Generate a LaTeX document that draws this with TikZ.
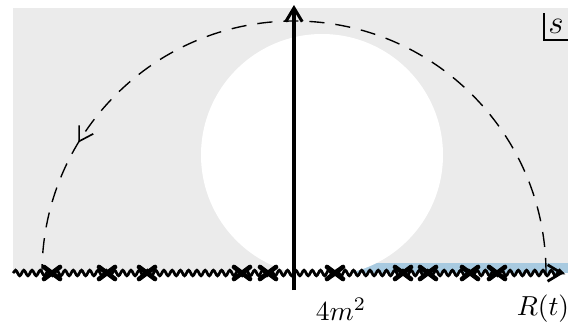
\documentclass[tikz,border=0pt]{standalone}
\usetikzlibrary{decorations.pathmorphing, decorations.markings, arrows.meta}

\definecolor{bggray}{RGB}{235,235,235}
\definecolor{cutblue}{RGB}{168,202,224}

\tikzset{
  pole/.style={line width=1.7pt, line cap=round},
  cut/.style={line width=1pt, decorate,
              decoration={snake, segment length=3pt, amplitude=1pt}},
  contour/.style={line width=0.5pt, dash pattern=on 5.5pt off 4pt}
}

\begin{document}
\begin{tikzpicture}[x=0.364pt, y=0.364pt,
                    >={Straight Barb[length=5pt, width=6pt]}]
  \useasboundingbox (-294, -52) rectangle (274, 273);
  \clip (-294, -52) rectangle (274, 273);

  % Region shading: grey half plane, blue strip above the cut, white disk
  \fill[bggray] (-281, 0) rectangle (280, 265);
  \fill[cutblue] (41, 0) rectangle (280, 10);
  \fill[white] (28, 118) circle (121);

  % Key points
  \coordinate (o) at (0, 0);
  \coordinate (bot) at (0, -17);
  \coordinate (top) at (0, 268);
  \coordinate (l) at (-281, 0);
  \coordinate (r) at (270, 0);

  % Large contour (radius R(t)), counterclockwise
  \draw[contour, postaction={decorate},
        decoration={markings, mark=at position 0.827 with
          {\arrow[line width=0.6pt, solid]{Straight Barb[length=5pt, width=6pt]}}}]
    (252, 0) arc (0:180:252);

  % Real axis with cut
  \draw[cut, ->] (l) -- (r);

  % Poles on the real axis
  \foreach \p in {-242, -187, -147, -52, -26, 41, 109, 134, 176, 203}
    \draw[pole] (\p-8, -6) -- (\p+8, 6) (\p-8, 6) -- (\p+8, -6);

  % Imaginary axis
  \draw[->, line width=1.1pt] (bot) -- (top);

  % Labels
  \node (thr) at (47, -36) {$4m^2$};
  \node (rad) at (249, -36) {$R(t)$};
  \node[font=\large] (slabel) at (262, 247) {$s$};
  \draw[line width=0.5pt] (250, 260) |- (280, 233);
\end{tikzpicture}
\end{document}
